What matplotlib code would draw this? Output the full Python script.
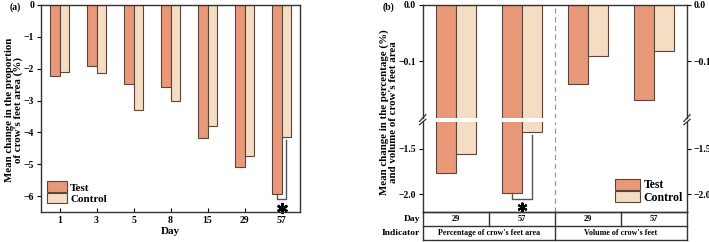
import matplotlib
matplotlib.use("Agg")
import matplotlib.pyplot as plt
import numpy as np

plt.rcParams['font.family'] = ['Liberation Serif', 'DejaVu Serif']
plt.rcParams['axes.linewidth'] = 1.0

# ---------------- data ----------------
days_a = ["1", "3", "5", "8", "15", "29", "57"]
test_a = [-2.23, -1.92, -2.47, -2.56, -4.18, -5.10, -5.95]
control_a = [-2.10, -2.12, -3.31, -3.01, -3.79, -4.75, -4.16]

days_b = ["29", "57", "29", "57"]
indicators_b = ["Percentage of crow's feet area", "Volume of crow's feet"]
test_b = [-1.77, -1.99, -0.139, -0.169]
control_b = [-1.56, -1.31, -0.091, -0.081]

yticks_a = [0, -1, -2, -3, -4, -5, -6]
yticks_b_up = [0.0, -0.1]
yticks_b_lo = [-1.5, -2.0]

c_test = "#E9997A"
c_ctrl = "#F4DDC3"
c_edge = "#5A4538"

W, H = 709, 242
fig = plt.figure(figsize=(W / 100, H / 100), dpi=100)


def px_axes(x0, y0, x1, y1):
    return fig.add_axes([x0 / W, 1 - y1 / H, (x1 - x0) / W, (y1 - y0) / H])

fs_tick = 7
fs_lab = 8
star_kw = dict(marker=(6, 2, 0), color='black', markersize=8, mew=1.8, linestyle='none',
               clip_on=False)

# ---------------- panel (a) ----------------
ax = px_axes(41, 5, 300, 212)
x = np.arange(len(days_a))
wa = 0.25
ax.bar(x - wa / 2, test_a, wa, color=c_test, edgecolor=c_edge, linewidth=0.8, label="Test")
ax.bar(x + wa / 2, control_a, wa, color=c_ctrl, edgecolor=c_edge, linewidth=0.8, label="Control")
ax.set_xlim(-0.5, 6.5)
ax.set_ylim(-6.5, 0)
ax.set_xticks(x)
ax.set_xticklabels(days_a, fontweight='bold')
ax.set_yticks(yticks_a)
ax.set_yticklabels([("\u2212%d" % -v) if v < 0 else "0" for v in yticks_a], fontweight='bold')
ax.tick_params(axis='x', direction='in', length=3, labelsize=fs_tick, pad=3)
ax.tick_params(axis='y', direction='out', length=3, labelsize=fs_tick, pad=2)
ax.set_xlabel("Day", fontsize=fs_lab, fontweight='bold', labelpad=1)
for s in ax.spines.values():
    s.set_color("#333333")
fig.text(14 / W, 1 - 110 / H, "Mean change in the proportion\nof crow's feet area (%)",
         rotation=90, ha='center', va='center', fontsize=7.8, fontweight='bold', linespacing=1.05)
# significance bracket
i = 6
ax.plot([i - wa / 2, i - wa / 2, i + wa / 2, i + wa / 2],
        [test_a[i], -6.1, -6.1, control_a[i] - 0.07], color="#555555", lw=1.0)
ax.plot([i], [-6.37], **star_kw)
ax.legend(loc='lower left', bbox_to_anchor=(0.022, 0.04), frameon=False,
          prop={'weight': 'bold', 'size': fs_lab},
          handlelength=1.8, handleheight=1.1, labelspacing=0.0,
          handletextpad=0.3, borderpad=0.0, borderaxespad=0.0)
fig.text(10 / W, 1 - 7 / H, "(a)", fontsize=7, fontweight='bold', va='center')

# ---------------- panel (b) ----------------
xl, xr = 422.7, 687
au = px_axes(xl, 5, xr, 118)
al = px_axes(xl, 122, xr, 212)
xb = np.arange(len(days_b))
wb = 0.3
for a in (au, al):
    a.bar(xb - wb / 2, test_b, wb, color=c_test, edgecolor=c_edge, linewidth=0.8, label="Test")
    a.bar(xb + wb / 2, control_b, wb, color=c_ctrl, edgecolor=c_edge, linewidth=0.8, label="Control")
    a.set_xlim(-0.5, 3.5)
    a.axvline(1.5, color="#999999", lw=0.9, ls=(0, (4, 3)))
    a.set_xticks([])
    a.tick_params(axis='y', direction='out', length=3, labelsize=fs_tick, pad=2,
                  right=True, labelright=True)
    for s in a.spines.values():
        s.set_color("#333333")
au.set_ylim(-0.2, 0.0)
au.set_yticks(yticks_b_up)
au.set_yticklabels(["0.0", "\u22120.1"])
au.spines['bottom'].set_visible(False)
al.set_ylim(-2.2, -1.2)
al.set_yticks(yticks_b_lo)
al.set_yticklabels(["\u22121.5", "\u22122.0"])
al.spines['top'].set_visible(False)
for t in au.get_yticklabels() + al.get_yticklabels():
    t.set_fontweight('bold')

# break marks
for xa in (0, 1):
    for yv, a in ((0.0, au), (1.0, al)):
        a.plot([xa - 0.012, xa + 0.012], [yv - 0.03, yv + 0.03],
               transform=a.transAxes, color="#333333", lw=0.9, clip_on=False)

# significance bracket (b)
j = 1
al.plot([j - wb / 2, j - wb / 2, j + wb / 2, j + wb / 2],
        [test_b[j], -2.06, -2.06, control_b[j] - 0.03], color="#555555", lw=1.0)
al.plot([j], [-2.145], **dict(star_kw, markersize=7, mew=1.5))

al.legend(loc='lower right', bbox_to_anchor=(0.985, 0.09), frameon=False,
          prop={'weight': 'bold', 'size': 8.5},
          handlelength=2.1, handleheight=1.05, labelspacing=0.0,
          handletextpad=0.3, borderpad=0.0, borderaxespad=0.0)

fig.text(383 / W, 1 - 7 / H, "(b)", fontsize=7, fontweight='bold', va='center')
fig.text(389 / W, 1 - 112 / H, "Mean change in the percentage (%)\nand volume of crow's feet area",
         rotation=90, ha='center', va='center', fontsize=7.8, fontweight='bold', linespacing=1.05)

# table below panel (b)
at = px_axes(xl, 212, xr, 240)
at.set_xlim(-0.5, 3.5)
at.set_ylim(0, 2)
at.axis('off')
lc = "#333333"
for yv in (0, 1, 2):
    at.plot([-0.5, 3.5], [yv, yv], color=lc, lw=1.0, clip_on=False)
for xv in (-0.5, 1.5, 3.5):
    at.plot([xv, xv], [0, 2], color=lc, lw=1.0, clip_on=False)
for xv in (0.5, 2.5):
    at.plot([xv, xv], [1, 2], color=lc, lw=1.0, clip_on=False)
for k, d in enumerate(days_b):
    at.text(k, 1.5, d, ha='center', va='center', fontsize=6, fontweight='bold')
for k, lab in enumerate(indicators_b):
    at.text(0.5 + 2 * k, 0.5, lab, ha='center', va='center', fontsize=5.8, fontweight='bold')
at.text(-0.54, 1.5, "Day", ha='right', va='center', fontsize=6.8, fontweight='bold')
at.text(-0.54, 0.5, "Indicator", ha='right', va='center', fontsize=6.8, fontweight='bold')

fig.savefig("out.png", dpi=100)
